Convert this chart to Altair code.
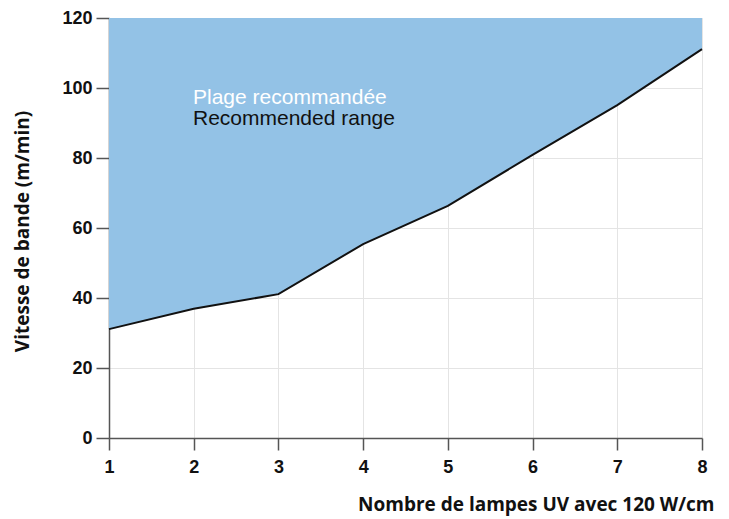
import altair as alt
import pandas as pd

lamps = [1, 2, 3, 4, 5, 6, 7, 8]
speed = [31.1, 36.9, 41.1, 55.4, 66.3, 80.9, 95.1, 111.1]
top = [120] * len(lamps)

ann_text = ["Plage recommandée", "Recommended range"]
ann_x = [1.0, 1.0]
ann_y = [97.1, 91.1]
ann_color = ["#ffffff", "#111111"]

df = pd.DataFrame({"lamps": lamps, "speed": speed, "top": top})
ann = pd.DataFrame({"t": ann_text, "x": ann_x, "y": ann_y, "c": ann_color})

xscale = alt.Scale(domain=[1, 8], nice=False)
yscale = alt.Scale(domain=[0, 120], nice=False)

xaxis = alt.Axis(values=lamps, format="d", title="Nombre de lampes UV avec 120 W/cm",
                 titleFont="Open Sans", titleFontSize=19, titleFontWeight="bold",
                 titleColor="#111", titleAnchor="end", titleAlign="right",
                 titleX=605, titleY=72, titleBaseline="alphabetic",
                 labelFont="Liberation Sans", labelFontSize=18, labelFontWeight="bold",
                 labelColor="#111", labelPadding=8, labelFlush=False,
                 tickSize=12, tickColor="#555",
                 domainColor="#555", domainWidth=1.5, tickWidth=1.5,
                 gridColor="#e4e4e4", gridWidth=1)
yaxis = alt.Axis(values=list(range(0, 121, 10)), title="Vitesse de bande (m/min)",
                 labelExpr="datum.value % 20 == 0 ? datum.label : ''",
                 titleFont="Open Sans", titleFontSize=19, titleFontWeight="bold",
                 titleColor="#111", titleX=-77, titleY=213, titleAngle=-90,
                 titleAlign="center", titleBaseline="bottom",
                 labelFont="Liberation Sans", labelFontSize=18, labelFontWeight="bold",
                 labelColor="#111", labelPadding=4, labelFlush=False,
                 tickSize=13, tickColor="#555",
                 domainColor="#555", domainWidth=1.5, tickWidth=1.5,
                 gridColor="#e4e4e4", gridWidth=1)

base = alt.Chart(df)
area = base.mark_area(color="#93c2e6", opacity=1).encode(
    x=alt.X("lamps:Q", scale=xscale, axis=xaxis),
    y=alt.Y("speed:Q", scale=yscale, axis=yaxis),
    y2="top:Q",
)
line = base.mark_line(color="#111", strokeWidth=2).encode(
    x=alt.X("lamps:Q", scale=xscale),
    y=alt.Y("speed:Q", scale=yscale),
)
text = alt.Chart(ann).mark_text(align="left", baseline="middle", font="Liberation Sans",
                                fontSize=21, dx=84).encode(
    x=alt.X("x:Q", scale=xscale),
    y=alt.Y("y:Q", scale=yscale),
    text="t:N",
    color=alt.Color("c:N", scale=None),
)

chart = alt.layer(area, line, text).properties(
    width=593, height=420,
    autosize=alt.AutoSizeParams(type="none"),
    padding={"left": 101, "top": 10, "right": 19, "bottom": 78},
).configure_view(stroke=None).configure(background="white")

chart.save("out.html", embed_options={"renderer": "svg", "actions": False})
